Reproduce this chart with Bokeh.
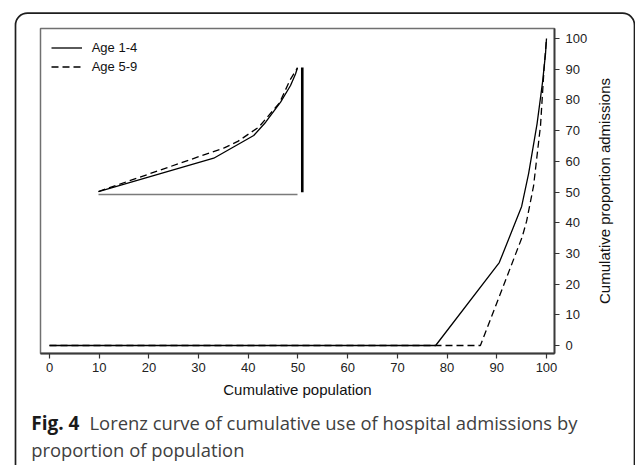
import math
from bokeh.plotting import figure
from bokeh.models import (Range1d, Legend, LegendItem, Label, BoxAnnotation, FixedTicker,
                          LinearAxis)
from bokeh.embed import file_html
from bokeh.resources import INLINE

# ---------------- data ----------------
X_TICKS = [0, 10, 20, 30, 40, 50, 60, 70, 80, 90, 100]
Y_TICKS = [0, 10, 20, 30, 40, 50, 60, 70, 80, 90, 100]

SERIES_1 = "Age 1-4"
SERIES_2 = "Age 5-9"

# main Lorenz curves (cumulative population %, cumulative admissions %)
POP_1_4 = [0, 77.7, 90.5, 95.0, 96.4, 98.1, 99.2, 99.8, 100]
ADM_1_4 = [0, 0, 27.0, 45.3, 56.0, 72.2, 85.7, 95.0, 100]
POP_5_9 = [0, 86.7, 95.1, 96.0, 97.4, 98.8, 99.5, 100]
ADM_5_9 = [0, 0, 35.3, 40.5, 52.0, 71.7, 90.0, 100]

# inset: non-zero part of each curve rescaled to 0-100
INSET_POP_1_4 = [0, 57.9, 78.0, 84.0, 91.5, 96.5, 99.0, 100]
INSET_ADM_1_4 = [0, 26.9, 45.3, 56.0, 72.2, 85.7, 95.0, 100]
INSET_POP_5_9 = [0, 63.2, 70.0, 80.5, 91.0, 96.2, 100]
INSET_ADM_5_9 = [0, 35.3, 40.5, 52.0, 71.7, 90.0, 100]

X_LABEL = "Cumulative population"
Y_LABEL = "Cumulative proportion admissions"
CAPTION_BOLD = "Fig. 4"
CAPTION_LINE1 = "Lorenz curve of cumulative use of hospital admissions by"
CAPTION_LINE2 = "proportion of population"

# ---------------- figure ----------------
W, H = 635, 465
# data window of the whole canvas (frame fills the canvas, axes are fixed inside it)
X0, X1 = -9.859, 117.908
Y0, Y1 = -39.088, 112.378
# plot area edges in data units
PA_L, PA_R, PA_B, PA_T = -1.811, 101.61, -2.606, 103.26

p = figure(width=W, height=H, output_backend="svg", toolbar_location=None,
           x_range=Range1d(X0, X1), y_range=Range1d(Y0, Y1),
           x_axis_location=None, y_axis_location=None,
           min_border=0, min_border_left=0, min_border_right=0,
           min_border_top=0, min_border_bottom=0)
p.grid.visible = False
p.background_fill_color = "white"
p.border_fill_color = "white"
p.outline_line_color = None

# inset coordinate system
p.extra_x_ranges = {"ix": Range1d(-49.246, 269.849)}
p.extra_y_ranges = {"iy": Range1d(-221.5, 154.41)}

TICK_FONT = "Liberation Sans"

# plot-area frame (gray left / top edges)
p.add_layout(BoxAnnotation(left=PA_L, right=PA_R, bottom=PA_B, top=PA_T,
                           fill_alpha=0, line_alpha=1, line_color="#707070",
                           line_width=1.5, level="underlay"))

xaxis = LinearAxis(fixed_location=PA_B, bounds=(PA_L, PA_R))
yaxis = LinearAxis(fixed_location=PA_R, bounds=(PA_B, PA_T))
p.add_layout(xaxis, "below")
p.add_layout(yaxis, "right")

for ax, ticks in ((xaxis, X_TICKS), (yaxis, Y_TICKS)):
    ax.ticker = FixedTicker(ticks=ticks)
    ax.minor_tick_line_color = None
    ax.major_tick_in = 0
    ax.major_tick_out = 5
    ax.major_tick_line_color = "#333333"
    ax.major_tick_line_width = 1.2
    ax.axis_line_color = "#3a3a3a"
    ax.axis_line_width = 1.8
    ax.major_label_text_font = TICK_FONT
    ax.major_label_text_font_size = "13px"
    ax.major_label_text_color = "#222222"
    ax.axis_label_text_font = TICK_FONT
    ax.axis_label_text_font_size = "15px"
    ax.axis_label_text_font_style = "normal"
    ax.axis_label_text_color = "#111111"

xaxis.axis_label = X_LABEL
xaxis.major_label_standoff = 4
xaxis.axis_label_standoff = 6
yaxis.major_label_standoff = 6

# y axis title, reading bottom to top
p.add_layout(Label(x=604, y=190.5, x_units="canvas", y_units="canvas", text=Y_LABEL,
                   angle=math.pi / 2, text_align="center", text_baseline="middle",
                   text_font=TICK_FONT, text_font_size="15px", text_color="#111111"))

# main curves
r1 = p.line(POP_1_4, ADM_1_4, line_color="black", line_width=1.3)
r2 = p.line(POP_5_9, ADM_5_9, line_color="black", line_width=1.3, line_dash="7 4")

# inset curves
p.line(INSET_POP_1_4, INSET_ADM_1_4, x_range_name="ix", y_range_name="iy",
       line_color="black", line_width=1.3)
p.line(INSET_POP_5_9, INSET_ADM_5_9, x_range_name="ix", y_range_name="iy",
       line_color="black", line_width=1.3, line_dash="7 4")

# inset axes (offset from the data area)
INSET_AXIS_GAP_Y = -2.4
INSET_AXIS_GAP_X = 102.4
p.line([0, 100], [INSET_AXIS_GAP_Y, INSET_AXIS_GAP_Y], x_range_name="ix", y_range_name="iy",
       line_color="#7a7a7a", line_width=1.6)
p.line([INSET_AXIS_GAP_X, INSET_AXIS_GAP_X], [-0.6, 100.2], x_range_name="ix", y_range_name="iy",
       line_color="black", line_width=2.6)

legend = Legend(items=[LegendItem(label=SERIES_1, renderers=[r1]),
                       LegendItem(label=SERIES_2, renderers=[r2])],
                location=(50.7, 389.5), border_line_color=None, background_fill_alpha=0,
                margin=0, padding=10, spacing=0, glyph_width=31, glyph_height=19,
                label_standoff=10, label_text_font=TICK_FONT, label_text_font_size="13px",
                label_text_color="#111111")
p.add_layout(legend)

# caption
CAP_FONT = "Open Sans"
CAP_SIZE = "18.4px"
p.add_layout(Label(x=30.7, y=422, x_units="canvas", y_units="canvas", text=CAPTION_BOLD,
                   text_font=CAP_FONT, text_font_size="19px", text_font_style="bold",
                   text_color="#1a1a1a", text_baseline="alphabetic"))
p.add_layout(Label(x=89, y=422, x_units="canvas", y_units="canvas", text=CAPTION_LINE1,
                   text_font=CAP_FONT, text_font_size=CAP_SIZE, text_color="#404040",
                   text_baseline="alphabetic"))
p.add_layout(Label(x=30.7, y=448.5, x_units="canvas", y_units="canvas", text=CAPTION_LINE2,
                   text_font=CAP_FONT, text_font_size=CAP_SIZE, text_color="#404040",
                   text_baseline="alphabetic"))

# rounded figure box (bottom edge lies below the visible area)
p.add_layout(BoxAnnotation(left=15, right=634, top=12.7, bottom=490,
                           left_units="canvas", right_units="canvas",
                           top_units="canvas", bottom_units="canvas",
                           fill_alpha=0, line_alpha=1, line_color="#1e1e1e",
                           line_width=1.7, border_radius=12))

open("out.html", "w").write(file_html(p, INLINE))
